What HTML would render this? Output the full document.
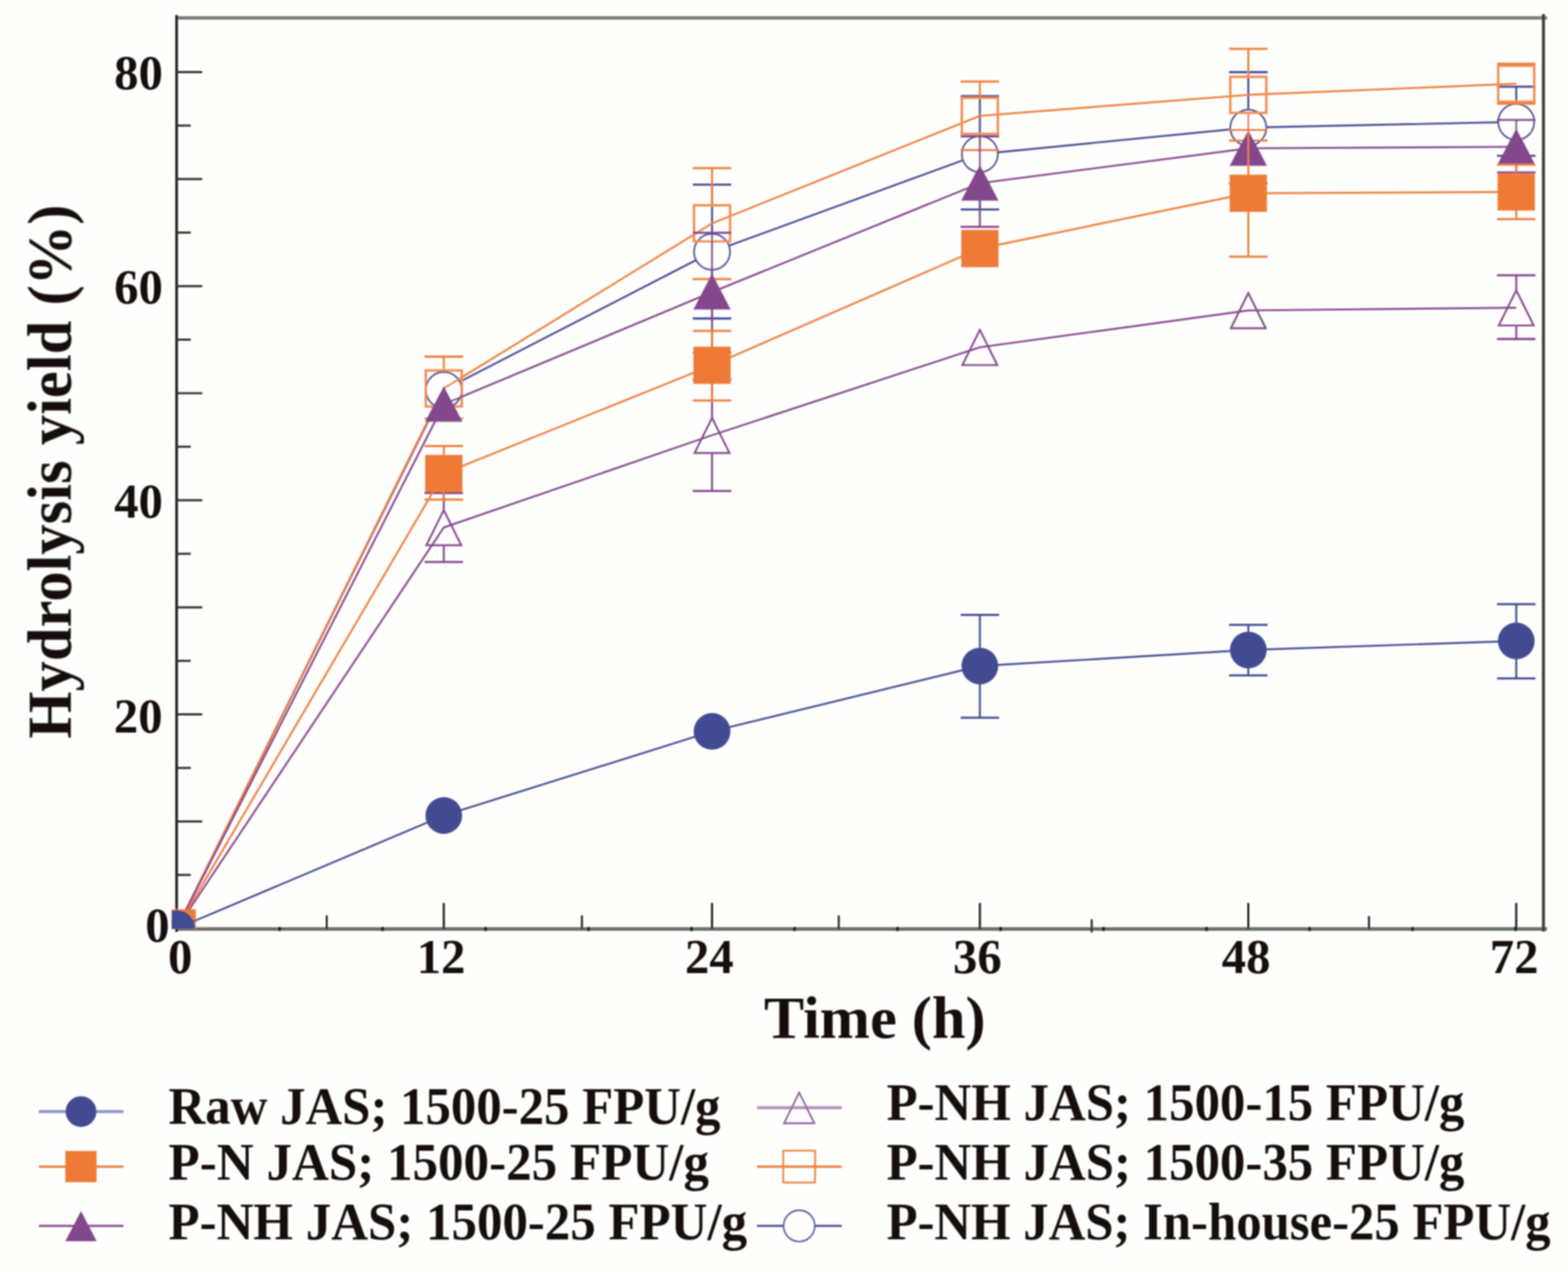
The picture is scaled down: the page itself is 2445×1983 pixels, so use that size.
<!DOCTYPE html>
<html lang="en">
<head>
<meta charset="utf-8">
<title>Hydrolysis yield vs. time</title>
<style>
html, body { margin: 0; padding: 0; background: #fefefd; }
body { width: 2445px; height: 1983px; overflow: hidden; font-family: "Liberation Serif", "DejaVu Serif", serif; }
svg { display: block; }
</style>
</head>
<body>
<svg width="2445" height="1983" viewBox="0 0 2445 1983" role="img" aria-label="Hydrolysis yield (%) versus time (h) for six substrate and enzyme-loading combinations">
<rect x="0" y="0" width="2445" height="1983" fill="#fefefd"/>
<defs><filter id="soft" filterUnits="userSpaceOnUse" x="0" y="0" width="2445" height="1983"><feGaussianBlur stdDeviation="1"/></filter><clipPath id="plotclip"><rect x="267.8" y="20" width="2145" height="1428.2"/></clipPath></defs>
<g id="chart" filter="url(#soft)">
<g id="axes" fill="none">
<line x1="273.4" y1="1448.2" x2="2412.2" y2="1448.2" stroke-width="5.6" stroke="#6e6a66"/>
<line x1="273.4" y1="27.9" x2="2412.2" y2="27.9" stroke-width="5.4" stroke="#7b7977"/>
<line x1="275.4" y1="23.5" x2="275.4" y2="1452.7" stroke-width="4" stroke="#1c1a18"/>
<line x1="2406.7" y1="22.0" x2="2406.7" y2="1452.2" stroke-width="4.6" stroke="#3c3a37"/>
<line x1="275.4" y1="1364.0" x2="297.4" y2="1364.0" stroke-width="3.2" stroke="#2b2927"/>
<line x1="275.4" y1="1280.6" x2="315.4" y2="1280.6" stroke-width="3.2" stroke="#2b2927"/>
<line x1="275.4" y1="1197.2" x2="297.4" y2="1197.2" stroke-width="3.2" stroke="#2b2927"/>
<line x1="275.4" y1="1113.7" x2="315.4" y2="1113.7" stroke-width="3.2" stroke="#2b2927"/>
<line x1="275.4" y1="1030.2" x2="297.4" y2="1030.2" stroke-width="3.2" stroke="#2b2927"/>
<line x1="275.4" y1="946.8" x2="315.4" y2="946.8" stroke-width="3.2" stroke="#2b2927"/>
<line x1="275.4" y1="863.3" x2="297.4" y2="863.3" stroke-width="3.2" stroke="#2b2927"/>
<line x1="275.4" y1="779.9" x2="315.4" y2="779.9" stroke-width="3.2" stroke="#2b2927"/>
<line x1="275.4" y1="696.4" x2="297.4" y2="696.4" stroke-width="3.2" stroke="#2b2927"/>
<line x1="275.4" y1="613.0" x2="315.4" y2="613.0" stroke-width="3.2" stroke="#2b2927"/>
<line x1="275.4" y1="529.5" x2="297.4" y2="529.5" stroke-width="3.2" stroke="#2b2927"/>
<line x1="275.4" y1="446.1" x2="315.4" y2="446.1" stroke-width="3.2" stroke="#2b2927"/>
<line x1="275.4" y1="362.6" x2="297.4" y2="362.6" stroke-width="3.2" stroke="#2b2927"/>
<line x1="275.4" y1="279.2" x2="315.4" y2="279.2" stroke-width="3.2" stroke="#2b2927"/>
<line x1="275.4" y1="195.8" x2="297.4" y2="195.8" stroke-width="3.2" stroke="#2b2927"/>
<line x1="275.4" y1="112.3" x2="315.4" y2="112.3" stroke-width="3.2" stroke="#2b2927"/>
<line x1="692.0" y1="1448.2" x2="692.0" y2="1407.7" stroke-width="3.2" stroke="#1c1a18"/>
<line x1="1110.3" y1="1448.2" x2="1110.3" y2="1407.7" stroke-width="3.2" stroke="#1c1a18"/>
<line x1="1527.9" y1="1448.2" x2="1527.9" y2="1407.7" stroke-width="3.2" stroke="#1c1a18"/>
<line x1="1946.5" y1="1448.2" x2="1946.5" y2="1407.7" stroke-width="3.2" stroke="#1c1a18"/>
<line x1="2364.3" y1="1448.2" x2="2364.3" y2="1407.7" stroke-width="3.2" stroke="#1c1a18"/>
<line x1="509.5" y1="1448.2" x2="509.5" y2="1427.2" stroke-width="3.2" stroke="#2b2927"/>
<line x1="907.4" y1="1448.2" x2="907.4" y2="1427.2" stroke-width="3.2" stroke="#2b2927"/>
<line x1="1307.9" y1="1448.2" x2="1307.9" y2="1427.2" stroke-width="3.2" stroke="#2b2927"/>
<line x1="1702.3" y1="1453.7" x2="1702.3" y2="1433.2" stroke-width="3.2" stroke="#2b2927"/>
<line x1="2134.6" y1="1448.2" x2="2134.6" y2="1428.2" stroke-width="3.2" stroke="#2b2927"/>
<line x1="436.0" y1="1445.2" x2="436.0" y2="1451.4" stroke-width="4.2" stroke="#15130f"/>
<line x1="596.6" y1="1445.2" x2="596.6" y2="1451.4" stroke-width="4.2" stroke="#15130f"/>
<line x1="757.2" y1="1445.2" x2="757.2" y2="1451.4" stroke-width="4.2" stroke="#15130f"/>
<line x1="917.8" y1="1445.2" x2="917.8" y2="1451.4" stroke-width="4.2" stroke="#15130f"/>
<line x1="1078.4" y1="1445.2" x2="1078.4" y2="1451.4" stroke-width="4.2" stroke="#15130f"/>
<line x1="1239.0" y1="1445.2" x2="1239.0" y2="1451.4" stroke-width="4.2" stroke="#15130f"/>
<line x1="1399.6" y1="1445.2" x2="1399.6" y2="1451.4" stroke-width="4.2" stroke="#15130f"/>
<line x1="1560.2" y1="1445.2" x2="1560.2" y2="1451.4" stroke-width="4.2" stroke="#15130f"/>
<line x1="1720.8" y1="1445.2" x2="1720.8" y2="1451.4" stroke-width="4.2" stroke="#15130f"/>
<line x1="1881.4" y1="1445.2" x2="1881.4" y2="1451.4" stroke-width="4.2" stroke="#15130f"/>
<line x1="2042.0" y1="1445.2" x2="2042.0" y2="1451.4" stroke-width="4.2" stroke="#15130f"/>
<line x1="2202.6" y1="1445.2" x2="2202.6" y2="1451.4" stroke-width="4.2" stroke="#15130f"/>
<line x1="2363.2" y1="1445.2" x2="2363.2" y2="1451.4" stroke-width="4.2" stroke="#15130f"/>
</g>
<g id="data" clip-path="url(#plotclip)">
<g id="s-inh">
<polyline fill="none" stroke="#424c91" stroke-width="2.9" points="275.5,1447.5 692.0,608.0 1110.3,392.6 1527.9,240.2 1946.5,199.0 2364.3,190.0"/>
<path fill="none" stroke="#424c91" stroke-width="3.0" d="M1110.3,287.9V363.3M1110.3,421.9V496.5"/>
<path fill="none" stroke="#424c91" stroke-width="3.3" d="M1080.3,287.9H1140.3M1080.3,496.5H1140.3"/>
<path fill="none" stroke="#424c91" stroke-width="3.0" d="M1527.9,149.8V210.9M1527.9,269.5V326.7"/>
<path fill="none" stroke="#424c91" stroke-width="3.3" d="M1497.9,149.8H1557.9M1497.9,326.7H1557.9"/>
<path fill="none" stroke="#424c91" stroke-width="3.0" d="M1946.5,112.5V169.7M1946.5,228.3V285.8"/>
<path fill="none" stroke="#424c91" stroke-width="3.3" d="M1916.5,112.5H1976.5M1916.5,285.8H1976.5"/>
<path fill="none" stroke="#424c91" stroke-width="3.0" d="M2364.3,135.2V160.7M2364.3,219.3V242.8"/>
<path fill="none" stroke="#424c91" stroke-width="3.3" d="M2334.3,135.2H2394.3M2334.3,242.8H2394.3"/>
<circle cx="275.5" cy="1447.5" r="27.9" fill="#fefefd" stroke="#424c91" stroke-width="2.8"/>
<circle cx="692.0" cy="608.0" r="27.9" fill="#fefefd" stroke="#424c91" stroke-width="2.8"/>
<circle cx="1110.3" cy="392.6" r="27.9" fill="#fefefd" stroke="#424c91" stroke-width="2.8"/>
<circle cx="1527.9" cy="240.2" r="27.9" fill="#fefefd" stroke="#424c91" stroke-width="2.8"/>
<circle cx="1946.5" cy="199.0" r="27.9" fill="#fefefd" stroke="#424c91" stroke-width="2.8"/>
<circle cx="2364.3" cy="190.0" r="27.9" fill="#fefefd" stroke="#424c91" stroke-width="2.8"/>
</g>
<g id="s-pnh35">
<polyline fill="none" stroke="#ee7a35" stroke-width="2.9" points="275.5,1447.5 692.0,605.6 1110.3,348.2 1527.9,180.6 1946.5,147.9 2364.3,130.5"/>
<path fill="none" stroke="#ee7a35" stroke-width="3.0" d="M692.0,556.0V575.6M692.0,635.6V652.7"/>
<path fill="none" stroke="#ee7a35" stroke-width="3.3" d="M662.0,556.0H722.0M662.0,652.7H722.0"/>
<path fill="none" stroke="#ee7a35" stroke-width="3.0" d="M1110.3,262.1V318.2M1110.3,378.2V435.2"/>
<path fill="none" stroke="#ee7a35" stroke-width="3.3" d="M1080.3,262.1H1140.3M1080.3,435.2H1140.3"/>
<path fill="none" stroke="#ee7a35" stroke-width="3.0" d="M1527.9,127.2V150.6M1527.9,210.6V234.0"/>
<path fill="none" stroke="#ee7a35" stroke-width="3.3" d="M1497.9,127.2H1557.9M1497.9,234.0H1557.9"/>
<path fill="none" stroke="#ee7a35" stroke-width="3.0" d="M1946.5,76.1V117.9M1946.5,177.9V219.1"/>
<path fill="none" stroke="#ee7a35" stroke-width="3.3" d="M1916.5,76.1H1976.5M1916.5,219.1H1976.5"/>
<path fill="none" stroke="#ee7a35" stroke-width="3.0" d="M2364.3,99.5V100.5M2364.3,160.5V161.5"/>
<path fill="none" stroke="#ee7a35" stroke-width="3.3" d="M2334.3,99.5H2394.3M2334.3,161.5H2394.3"/>
<rect x="247.4" y="1419.4" width="56.2" height="56.2" fill="none" stroke="#f08e52" stroke-width="3.8"/>
<rect x="663.9" y="577.5" width="56.2" height="56.2" fill="none" stroke="#f08e52" stroke-width="3.8"/>
<rect x="1082.2" y="320.1" width="56.2" height="56.2" fill="none" stroke="#f08e52" stroke-width="3.8"/>
<rect x="1499.8" y="152.5" width="56.2" height="56.2" fill="none" stroke="#f08e52" stroke-width="3.8"/>
<rect x="1918.4" y="119.8" width="56.2" height="56.2" fill="none" stroke="#f08e52" stroke-width="3.8"/>
<rect x="2336.2" y="102.4" width="56.2" height="56.2" fill="none" stroke="#f08e52" stroke-width="3.8"/>
</g>
<g id="s-pnh15">
<polyline fill="none" stroke="#83468c" stroke-width="2.9" points="275.5,1447.5 692.0,822.3 1110.3,678.5 1527.9,541.4 1946.5,484.0 2364.3,479.7"/>
<path fill="none" stroke="#83468c" stroke-width="3.0" d="M692.0,768.5V794.3M692.0,851.5V876.1"/>
<path fill="none" stroke="#83468c" stroke-width="3.3" d="M662.0,768.5H722.0M662.0,876.1H722.0"/>
<path fill="none" stroke="#83468c" stroke-width="3.0" d="M1110.3,592.0V650.5M1110.3,707.7V765.3"/>
<path fill="none" stroke="#83468c" stroke-width="3.3" d="M1080.3,592.0H1140.3M1080.3,765.3H1140.3"/>
<path fill="none" stroke="#83468c" stroke-width="3.0" d="M2364.3,429.2V451.7M2364.3,508.9V528.5"/>
<path fill="none" stroke="#83468c" stroke-width="3.3" d="M2334.3,429.2H2394.3M2334.3,528.5H2394.3"/>
<polygon points="275.5,1420.3 302.7,1475.2 248.3,1475.2" fill="none" stroke="#83468c" stroke-width="2.9" stroke-linejoin="miter"/>
<polygon points="692.0,795.1 719.2,850.0 664.8,850.0" fill="none" stroke="#83468c" stroke-width="2.9" stroke-linejoin="miter"/>
<polygon points="1110.3,651.3 1137.5,706.2 1083.1,706.2" fill="none" stroke="#83468c" stroke-width="2.9" stroke-linejoin="miter"/>
<polygon points="1527.9,514.2 1555.1,569.1 1500.7,569.1" fill="none" stroke="#83468c" stroke-width="2.9" stroke-linejoin="miter"/>
<polygon points="1946.5,456.8 1973.7,511.8 1919.3,511.8" fill="none" stroke="#83468c" stroke-width="2.9" stroke-linejoin="miter"/>
<polygon points="2364.3,452.5 2391.5,507.4 2337.1,507.4" fill="none" stroke="#83468c" stroke-width="2.9" stroke-linejoin="miter"/>
</g>
<g id="s-pnh25">
<polyline fill="none" stroke="#83468c" stroke-width="2.9" points="275.5,1447.5 692.0,630.2 1110.3,455.3 1527.9,285.6 1946.5,231.2 2364.3,228.9"/>
<path fill="none" stroke="#83468c" stroke-width="3.0" d="M1110.3,362.9V549.5"/>
<path fill="none" stroke="#83468c" stroke-width="3.3" d="M1080.3,362.9H1140.3M1080.3,549.5H1140.3"/>
<path fill="none" stroke="#83468c" stroke-width="3.0" d="M1527.9,212.5V353.7"/>
<path fill="none" stroke="#83468c" stroke-width="3.3" d="M1497.9,212.5H1557.9M1497.9,353.7H1557.9"/>
<path fill="none" stroke="#83468c" stroke-width="3.0" d="M2364.3,187.0V268.9"/>
<path fill="none" stroke="#83468c" stroke-width="3.3" d="M2334.3,187.0H2394.3M2334.3,268.9H2394.3"/>
<polygon points="275.5,1418.7 304.5,1474.7 246.5,1474.7" fill="#83468c"/>
<polygon points="692.0,601.4 721.0,657.4 663.0,657.4" fill="#83468c"/>
<polygon points="1110.3,426.5 1139.3,482.5 1081.3,482.5" fill="#83468c"/>
<polygon points="1527.9,256.8 1556.9,312.8 1498.9,312.8" fill="#83468c"/>
<polygon points="1946.5,202.4 1975.5,258.4 1917.5,258.4" fill="#83468c"/>
<polygon points="2364.3,200.1 2393.3,256.1 2335.3,256.1" fill="#83468c"/>
</g>
<g id="s-pn">
<polyline fill="none" stroke="#ee7a35" stroke-width="2.9" points="275.5,1447.5 692.0,738.2 1110.3,569.5 1527.9,387.5 1946.5,301.3 2364.3,299.3"/>
<path fill="none" stroke="#ee7a35" stroke-width="3.0" d="M692.0,695.3V778.9"/>
<path fill="none" stroke="#ee7a35" stroke-width="3.3" d="M662.0,695.3H722.0M662.0,778.9H722.0"/>
<path fill="none" stroke="#ee7a35" stroke-width="3.0" d="M1110.3,515.8V624.3"/>
<path fill="none" stroke="#ee7a35" stroke-width="3.3" d="M1080.3,515.8H1140.3M1080.3,624.3H1140.3"/>
<path fill="none" stroke="#ee7a35" stroke-width="3.0" d="M1946.5,202.7V400.2"/>
<path fill="none" stroke="#ee7a35" stroke-width="3.3" d="M1916.5,202.7H1976.5M1916.5,400.2H1976.5"/>
<path fill="none" stroke="#ee7a35" stroke-width="3.0" d="M2364.3,256.6V341.7"/>
<path fill="none" stroke="#ee7a35" stroke-width="3.3" d="M2334.3,256.6H2394.3M2334.3,341.7H2394.3"/>
<rect x="246.5" y="1418.5" width="58.0" height="58.0" fill="#ee7a35"/>
<rect x="663.0" y="709.2" width="58.0" height="58.0" fill="#ee7a35"/>
<rect x="1081.3" y="540.5" width="58.0" height="58.0" fill="#ee7a35"/>
<rect x="1498.9" y="358.5" width="58.0" height="58.0" fill="#ee7a35"/>
<rect x="1917.5" y="272.3" width="58.0" height="58.0" fill="#ee7a35"/>
<rect x="2335.3" y="270.3" width="58.0" height="58.0" fill="#ee7a35"/>
</g>
<g id="s-raw">
<polyline fill="none" stroke="#424c91" stroke-width="2.9" points="275.5,1447.5 692.0,1271.4 1110.3,1140.2 1527.9,1038.3 1946.5,1013.3 2364.3,999.2"/>
<path fill="none" stroke="#424c91" stroke-width="3.0" d="M1527.9,958.6V1118.8"/>
<path fill="none" stroke="#424c91" stroke-width="3.3" d="M1497.9,958.6H1557.9M1497.9,1118.8H1557.9"/>
<path fill="none" stroke="#424c91" stroke-width="3.0" d="M1946.5,974.2V1052.8"/>
<path fill="none" stroke="#424c91" stroke-width="3.3" d="M1916.5,974.2H1976.5M1916.5,1052.8H1976.5"/>
<path fill="none" stroke="#424c91" stroke-width="3.0" d="M2364.3,941.9V1057.6"/>
<path fill="none" stroke="#424c91" stroke-width="3.3" d="M2334.3,941.9H2394.3M2334.3,1057.6H2394.3"/>
<circle cx="275.5" cy="1447.5" r="28.6" fill="#424c91"/>
<circle cx="692.0" cy="1271.4" r="28.6" fill="#424c91"/>
<circle cx="1110.3" cy="1140.2" r="28.6" fill="#424c91"/>
<circle cx="1527.9" cy="1038.3" r="28.6" fill="#424c91"/>
<circle cx="1946.5" cy="1013.3" r="28.6" fill="#424c91"/>
<circle cx="2364.3" cy="999.2" r="28.6" fill="#424c91"/>
</g>
</g>
<g id="ticklabels" font-family="'Liberation Serif', 'DejaVu Serif', serif" font-weight="bold" font-size="76" fill="#14110e" text-anchor="middle">
<text x="215.9" y="138.7">80</text>
<text x="215.9" y="472.6">60</text>
<text x="215.9" y="806.6">40</text>
<text x="215.5" y="1141.7">20</text>
<text x="245.4" y="1467.9">0</text>
<text x="281.0" y="1516.8">0</text>
<text x="687.7" y="1516.8">12</text>
<text x="1106.1" y="1516.8">24</text>
<text x="1524.0" y="1516.8">36</text>
<text x="1943.0" y="1516.8">48</text>
<text x="2361.0" y="1516.8">72</text>
</g>
<text id="xtitle" font-family="'Liberation Serif', 'DejaVu Serif', serif" font-weight="bold" font-size="94" fill="#14110e" x="1364.0" y="1617.6" text-anchor="middle">Time (h)</text>
<text id="ytitle" font-family="'Liberation Serif', 'DejaVu Serif', serif" font-weight="bold" font-size="96.5" fill="#14110e" transform="translate(110.4,735.2) rotate(-90)" text-anchor="middle" textLength="832.5" lengthAdjust="spacingAndGlyphs">Hydrolysis yield (%)</text>
<g id="legend">
<line x1="60.6" y1="1732.9" x2="192.6" y2="1732.9" stroke="#8f95c3" stroke-width="4.6"/>
<circle cx="126.3" cy="1732.9" r="24.0" fill="#424c91"/>
<text font-family="'Liberation Serif', 'DejaVu Serif', serif" font-weight="bold" font-size="82" fill="#14110e" x="262.8" y="1751.8" textLength="860.7" lengthAdjust="spacingAndGlyphs">Raw JAS; 1500-25 FPU/g</text>
<line x1="60.6" y1="1818.7" x2="192.6" y2="1818.7" stroke="#ee7a35" stroke-width="3.4"/>
<rect x="101.9" y="1794.3" width="48.7" height="48.7" fill="#ee7a35"/>
<text font-family="'Liberation Serif', 'DejaVu Serif', serif" font-weight="bold" font-size="82" fill="#14110e" x="262.8" y="1839.2" textLength="842.7" lengthAdjust="spacingAndGlyphs">P-N JAS; 1500-25 FPU/g</text>
<line x1="60.6" y1="1911.1" x2="192.6" y2="1911.1" stroke="#83468c" stroke-width="3.4"/>
<polygon points="126.3,1888.1 150.7,1935.1 101.9,1935.1" fill="#83468c"/>
<text font-family="'Liberation Serif', 'DejaVu Serif', serif" font-weight="bold" font-size="82" fill="#14110e" x="262.8" y="1932.2" textLength="902.2" lengthAdjust="spacingAndGlyphs">P-NH JAS; 1500-25 FPU/g</text>
<line x1="1180.5" y1="1726.9" x2="1312.5" y2="1726.9" stroke="#b48fbc" stroke-width="4.6"/>
<polygon points="1246.2,1703.2 1269.8,1751.1 1222.6,1751.1" fill="none" stroke="#92589c" stroke-width="2.6" stroke-linejoin="miter"/>
<text font-family="'Liberation Serif', 'DejaVu Serif', serif" font-weight="bold" font-size="82" fill="#14110e" x="1382.4" y="1746.2" textLength="901.0" lengthAdjust="spacingAndGlyphs">P-NH JAS; 1500-15 FPU/g</text>
<line x1="1180.5" y1="1818.7" x2="1312.5" y2="1818.7" stroke="#ee7a35" stroke-width="3.4"/>
<rect x="1221.3" y="1793.8" width="49.7" height="49.7" fill="none" stroke="#ee7a35" stroke-width="2.6"/>
<text font-family="'Liberation Serif', 'DejaVu Serif', serif" font-weight="bold" font-size="82" fill="#14110e" x="1382.4" y="1839.2" textLength="901.0" lengthAdjust="spacingAndGlyphs">P-NH JAS; 1500-35 FPU/g</text>
<line x1="1180.5" y1="1911.1" x2="1312.5" y2="1911.1" stroke="#424c91" stroke-width="3.4"/>
<circle cx="1246.2" cy="1911.1" r="24.2" fill="#fefefd" stroke="#4a55a0" stroke-width="2.6"/>
<text font-family="'Liberation Serif', 'DejaVu Serif', serif" font-weight="bold" font-size="82" fill="#14110e" x="1382.4" y="1932.2" textLength="1035.5" lengthAdjust="spacingAndGlyphs">P-NH JAS; In-house-25 FPU/g</text>
</g>
</g>
</svg>
</body>
</html>
